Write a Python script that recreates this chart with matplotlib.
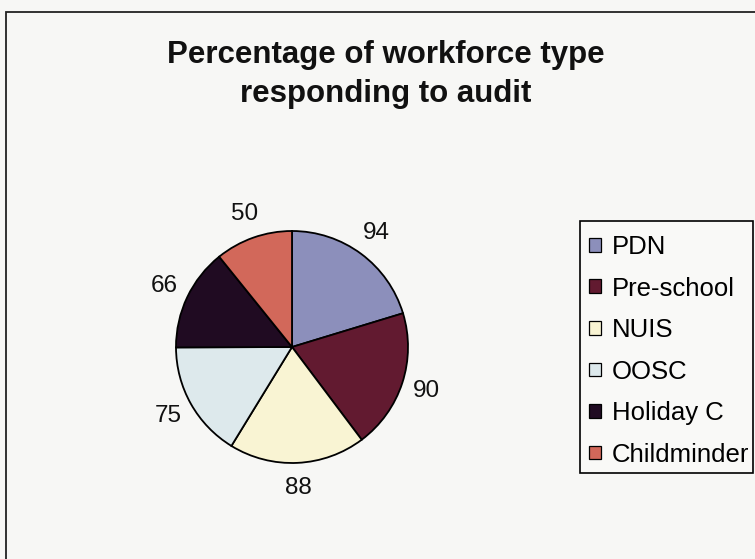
import matplotlib.pyplot as plt
from matplotlib.patches import Rectangle

plt.rcParams['font.family'] = ['Liberation Sans', 'DejaVu Sans']

# workforce types and response percentages
categories = ['PDN', 'Pre-school', 'NUIS', 'OOSC', 'Holiday C', 'Childminder']
responses = [94, 90, 88, 75, 66, 50]
colours = ['#8c8fbb', '#621a30', '#f9f4d3', '#dde9ec', '#200b22', '#d2685a']

W, H = 755, 559
fig = plt.figure(figsize=(W / 100, H / 100), dpi=100)
fig.patch.set_facecolor('#f7f7f5')

# chart frame (left and top edges visible, rest runs off the page)
fig.patches.append(Rectangle((6 / W, -0.2), 1.2, 0.2 + 1 - 12 / H,
                             transform=fig.transFigure, fill=False,
                             edgecolor='#222222', linewidth=1.3))

title_lines = ['Percentage of workforce type', 'responding to audit']
for line, base in zip(title_lines, [63, 102]):
    fig.text(386 / W, 1 - base / H, line, ha='center', va='baseline',
             fontsize=22.5, fontweight='bold', color='#111111')

# pie axes
ax = fig.add_axes([(292 - 116) / W, (H - 347 - 116) / H, 232 / W, 232 / H])
wedges, texts = ax.pie(responses, colors=colours, startangle=90, counterclock=False,
                       labels=[str(v) for v in responses], labeldistance=1.22,
                       wedgeprops=dict(edgecolor='black', linewidth=1.3),
                       textprops=dict(fontsize=17.5, color='#111111'))
for t in texts:
    t.set_ha('center')
    t.set_va('center')
ax.set_xlim(-1, 1)
ax.set_ylim(-1, 1)

# legend box drawn separately so it can sit flush with the entries
fig.patches.append(Rectangle((580 / W, 1 - 473 / H), 173 / W, 252 / H,
                             transform=fig.transFigure, facecolor='#f9f9f7',
                             edgecolor='black', linewidth=1.2, zorder=0.5))
leg = fig.legend(wedges, categories, loc='upper left',
                 bbox_to_anchor=(580 / W, 1 - 226 / H),
                 fontsize=18.5, frameon=False,
                 handlelength=0.45, handleheight=0.45, handletextpad=0.45,
                 labelspacing=0.683, borderpad=0.35, borderaxespad=0)
for h in leg.legend_handles:
    h.set_linewidth(0.9)

fig.savefig('out.png', dpi=100, facecolor=fig.get_facecolor())
